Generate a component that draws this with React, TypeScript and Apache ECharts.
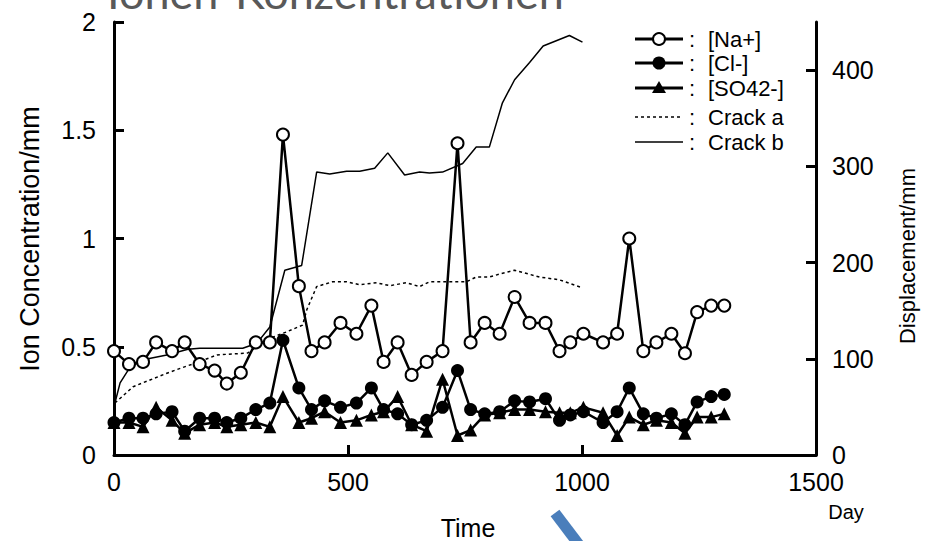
import React, { useEffect, useRef } from "react";
import * as echarts from "echarts";

// Sampling days (shared by the ion series)
const days = [0, 32, 62, 90, 124, 151, 183, 215, 241, 271, 303, 333, 361, 395, 422, 450, 484, 518, 550, 576, 606, 636, 668, 702, 734, 762, 792, 824, 856, 888, 922, 952, 975, 1003, 1045, 1075, 1101, 1131, 1159, 1191, 1220, 1246, 1276, 1304];
const naValues = [0.48, 0.42, 0.43, 0.52, 0.48, 0.52, 0.42, 0.39, 0.33, 0.38, 0.52, 0.52, 1.48, 0.78, 0.48, 0.52, 0.61, 0.56, 0.69, 0.43, 0.52, 0.37, 0.43, 0.48, 1.44, 0.52, 0.61, 0.56, 0.73, 0.61, 0.61, 0.48, 0.52, 0.56, 0.52, 0.56, 1.0, 0.48, 0.52, 0.56, 0.47, 0.66, 0.69, 0.69];
const clValues = [0.15, 0.17, 0.17, 0.19, 0.2, 0.11, 0.17, 0.17, 0.15, 0.17, 0.21, 0.24, 0.53, 0.31, 0.21, 0.25, 0.22, 0.24, 0.31, 0.21, 0.19, 0.14, 0.16, 0.22, 0.39, 0.21, 0.19, 0.2, 0.25, 0.245, 0.26, 0.16, 0.185, 0.2, 0.15, 0.2, 0.31, 0.19, 0.17, 0.19, 0.14, 0.245, 0.27, 0.28];
const so4Values = [0.15, 0.15, 0.13, 0.22, 0.16, 0.1, 0.14, 0.15, 0.13, 0.14, 0.15, 0.13, 0.27, 0.15, 0.17, 0.2, 0.15, 0.16, 0.185, 0.2, 0.27, 0.14, 0.11, 0.35, 0.09, 0.115, 0.185, 0.195, 0.21, 0.21, 0.2, 0.195, 0.195, 0.22, 0.195, 0.09, 0.175, 0.14, 0.16, 0.15, 0.1, 0.175, 0.175, 0.19];

// Crack displacements (right axis, mm)
const crackADays = [2, 41, 77, 113, 147, 183, 220, 286, 326, 369, 403, 412, 433, 467, 497, 525, 561, 589, 625, 653, 674, 753, 774, 802, 824, 856, 909, 952, 999];
const crackAValues = [54, 71, 78, 85, 91, 97, 104, 106, 120, 128, 135, 151, 175, 180, 180, 177, 179, 176, 179, 175, 180, 180, 185, 185, 188, 192, 185, 182, 174];
const crackBDays = [2, 13, 34, 62, 113, 158, 183, 275, 305, 333, 365, 401, 433, 461, 497, 525, 557, 585, 621, 653, 674, 702, 745, 774, 802, 830, 856, 888, 917, 973, 1001];
const crackBValues = [54, 75, 91, 99, 104, 110, 111, 111, 116, 133, 192, 197, 294, 292, 295, 295, 298, 314, 291, 294, 293, 294, 303, 320, 320, 366, 390, 408, 425, 436, 429];

const rightTicks = [0, 100, 200, 300, 400];
const legendNames = ["[Na+]", "[Cl-]", "[SO42-]", "Crack a", "Crack b"];

const FONT = "Liberation Sans, Arial, sans-serif";

function zip(xs: number[], ys: number[]) {
  return xs.map((x, i) => [x, ys[i]]);
}

export default function App() {
  const ref = useRef<HTMLDivElement>(null);
  useEffect(() => {
    if (!ref.current) return;
    const chart = echarts.init(ref.current, undefined, { renderer: "svg" });
    const axisLine = { show: true, lineStyle: { color: "#000", width: 3 } };
    const axisTick = { show: true, inside: true, length: 10, lineStyle: { color: "#000", width: 3 } };
    const axisLabel = { color: "#000", fontSize: 25, fontFamily: FONT };

    const rowY = [39, 63, 88, 117, 142];
    const lx0 = 635, lx1 = 683, lmx = 659;
    const legendGraphics: any[] = [];
    rowY.forEach((y, i) => {
      const isCrack = i >= 3;
      legendGraphics.push({
        type: "line",
        shape: { x1: lx0, y1: y, x2: lx1, y2: y },
        style: {
          stroke: "#000",
          lineWidth: isCrack ? 1.5 : 3,
          lineDash: i === 3 ? [3, 3] : null,
        },
      });
      if (i === 0) {
        legendGraphics.push({ type: "circle", shape: { cx: lmx, cy: y, r: 6 }, style: { fill: "#fff", stroke: "#000", lineWidth: 2 } });
      } else if (i === 1) {
        legendGraphics.push({ type: "circle", shape: { cx: lmx, cy: y, r: 6.5 }, style: { fill: "#000" } });
      } else if (i === 2) {
        legendGraphics.push({ type: "polygon", shape: { points: [[lmx, y - 7], [lmx + 7, y + 5], [lmx - 7, y + 5]] }, style: { fill: "#000" } });
      }
      legendGraphics.push({ type: "text", x: 689, y, style: { text: ":", fontSize: 22, fontFamily: FONT, fill: "#000", verticalAlign: "middle" } });
      legendGraphics.push({ type: "text", x: 708, y, style: { text: legendNames[i], fontSize: 22, fontFamily: FONT, fill: "#000", verticalAlign: "middle" } });
    });

    const option: any = {
      animation: false,
      grid: { left: 114, right: 109, top: 22, bottom: 86, containLabel: false },
      xAxis: {
        type: "value",
        min: 0,
        max: 1500,
        interval: 500,
        axisLine,
        axisTick,
        axisLabel: { ...axisLabel, margin: 14, formatter: (v: number) => String(v) },
        splitLine: { show: false },
      },
      yAxis: [
        {
          type: "value",
          position: "left",
          min: 0,
          max: 2,
          interval: 0.5,
          axisLine,
          axisTick,
          axisLabel: { ...axisLabel, margin: 18 },
          splitLine: { show: false },
        },
        {
          type: "value",
          position: "right",
          min: 0,
          max: 450,
          interval: 100,
          axisLine,
          axisTick: { ...axisTick, customValues: rightTicks },
          axisLabel: { ...axisLabel, margin: 16, customValues: rightTicks },
          splitLine: { show: false },
        },
      ],
      series: [
        {
          name: "Crack a",
          type: "line",
          yAxisIndex: 1,
          data: zip(crackADays, crackAValues),
          showSymbol: false,
          symbol: "none",
          lineStyle: { color: "#000", width: 1.5, type: [3, 3] },
          z: 1,
        },
        {
          name: "Crack b",
          type: "line",
          yAxisIndex: 1,
          data: zip(crackBDays, crackBValues),
          symbol: "none",
          lineStyle: { color: "#000", width: 1.5 },
          z: 1,
        },
        {
          name: "[SO42-]",
          type: "line",
          data: zip(days, so4Values),
          symbol: "triangle",
          symbolSize: 13,
          itemStyle: { color: "#000" },
          lineStyle: { color: "#000", width: 2.5 },
          z: 2,
        },
        {
          name: "[Cl-]",
          type: "line",
          data: zip(days, clValues),
          symbol: "circle",
          symbolSize: 13,
          itemStyle: { color: "#000" },
          lineStyle: { color: "#000", width: 2.5 },
          z: 3,
        },
        {
          name: "[Na+]",
          type: "line",
          data: zip(days, naValues),
          symbol: "circle",
          symbolSize: 12,
          itemStyle: { color: "#fff", borderColor: "#000", borderWidth: 2 },
          lineStyle: { color: "#000", width: 2.5 },
          z: 4,
        },
      ],
      graphic: [
        {
          type: "text",
          x: 107,
          y: 14,
          style: { text: "Ionen-Konzentrationen", fontSize: 45, fontFamily: "Lato, Open Sans, sans-serif", fill: "#595959", verticalAlign: "bottom" },
        },
        {
          type: "text",
          x: 30,
          y: 239,
          rotation: Math.PI / 2,
          style: { text: "Ion Concentration/mm", fontSize: 27, fontFamily: FONT, fill: "#000", align: "center", verticalAlign: "middle" },
        },
        {
          type: "text",
          x: 907,
          y: 256,
          rotation: Math.PI / 2,
          style: { text: "Displacement/mm", fontSize: 22, fontFamily: FONT, fill: "#000", align: "center", verticalAlign: "middle" },
        },
        {
          type: "text",
          x: 468,
          y: 528,
          style: { text: "Time", fontSize: 25, fontFamily: FONT, fill: "#000", align: "center", verticalAlign: "middle" },
        },
        {
          type: "text",
          x: 846,
          y: 512,
          style: { text: "Day", fontSize: 20, fontFamily: FONT, fill: "#000", align: "center", verticalAlign: "middle" },
        },
        {
          type: "line",
          shape: { x1: 555, y1: 513, x2: 580, y2: 546 },
          style: { stroke: "#4a7ebb", lineWidth: 11 },
        },
        ...legendGraphics,
      ],
    };
    chart.setOption(option);
    return () => chart.dispose();
  }, []);
  return <div ref={ref} style={{ width: 925, height: 541, position: "absolute", left: 0, top: 0 }} />;
}
